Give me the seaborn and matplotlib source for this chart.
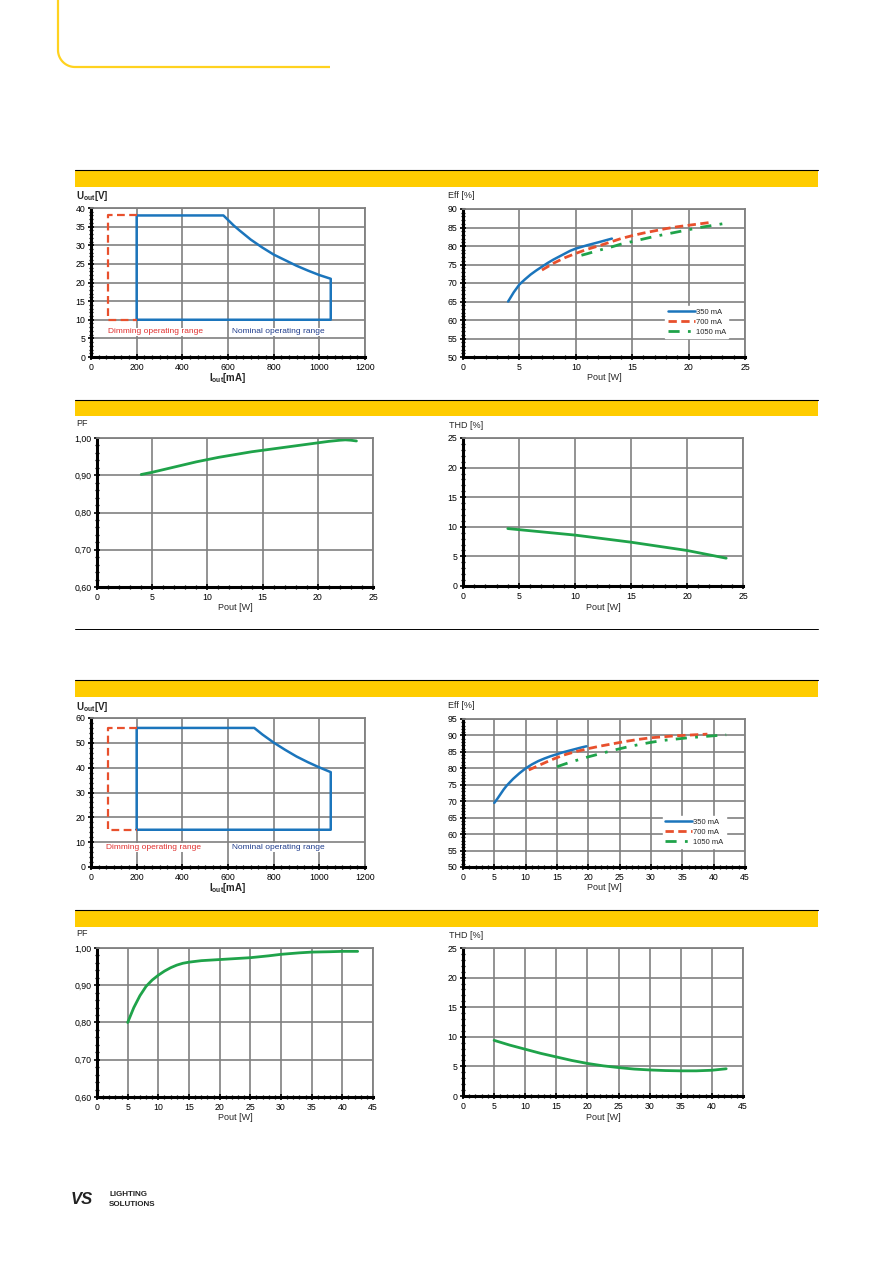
import numpy as np
import pandas as pd
import matplotlib
matplotlib.use("Agg")
import matplotlib.pyplot as plt
import seaborn as sns
from matplotlib.lines import Line2D
from matplotlib.patches import Rectangle
from matplotlib.ticker import MultipleLocator, AutoMinorLocator, FuncFormatter

# ---------------- data ----------------
# Section 1 (small driver): operating window
nom1_I = [200, 200, 580, 600, 625, 650, 700, 750, 800, 850, 900, 950, 1000, 1050, 1050, 200]
nom1_U = [10, 38, 38, 36.8, 35.3, 34, 31.5, 29.4, 27.5, 26, 24.5, 23.2, 22, 21, 10, 10]
dim1_I = [200, 75, 75, 200]
dim1_U = [38, 38, 10, 10]

# Section 1 efficiency
eff1_350_x = [4, 4.5, 5, 5.5, 6, 6.5, 7, 7.5, 8, 8.5, 9, 9.5, 10, 11, 12, 13.2]
eff1_350_y = [65, 67.5, 69.6, 71, 72.3, 73.4, 74.4, 75.4, 76.3, 77.1, 77.9, 78.7, 79.3, 80.2, 81, 82]
eff1_700_x = [7, 8, 9, 10, 11, 12, 13, 14, 15, 16, 17, 18, 19, 20, 21, 22]
eff1_700_y = [73.5, 75.3, 76.8, 78, 79.1, 80, 81, 82, 82.8, 83.5, 84.1, 84.7, 85.2, 85.6, 86, 86.4]
eff1_1050_x = [10.5, 11, 12, 13, 14, 15, 16, 17, 18, 19, 20, 21, 22, 23, 23.5]
eff1_1050_y = [77.5, 77.9, 78.8, 79.6, 80.5, 81.2, 81.9, 82.6, 83.2, 83.8, 84.4, 85, 85.5, 86, 86.2]

# Section 1 PF / THD
pf1_x = [4, 5, 6, 7, 8, 9, 10, 11, 12, 13, 14, 15, 16, 17, 18, 19, 20, 21, 22, 22.5, 23, 23.5]
pf1_y = [0.902, 0.908, 0.915, 0.922, 0.929, 0.936, 0.942, 0.948, 0.953, 0.958, 0.963, 0.967,
         0.971, 0.975, 0.979, 0.983, 0.987, 0.991, 0.994, 0.995, 0.994, 0.992]
thd1_x = [4, 10, 15, 20, 23.5]
thd1_y = [9.7, 8.6, 7.4, 6.0, 4.7]

# Section 2 (larger driver): operating window
nom2_I = [200, 200, 715, 750, 800, 850, 900, 950, 1000, 1050, 1050, 200]
nom2_U = [15, 56, 56, 53.4, 50.1, 47.2, 44.5, 42.2, 40.1, 38.2, 15, 15]
dim2_I = [200, 75, 75, 200]
dim2_U = [56, 56, 15, 15]

# Section 2 efficiency
eff2_350_x = [5, 5.5, 6, 6.5, 7, 7.5, 8, 9, 10, 11, 12, 13, 14, 15, 16, 17, 18, 19, 19.7]
eff2_350_y = [69.5, 70.8, 72.2, 73.6, 74.8, 75.8, 76.8, 78.5, 80, 81.2, 82.2, 83, 83.7, 84.3,
              84.9, 85.4, 85.9, 86.4, 86.7]
eff2_700_x = [10.5, 12, 14, 16, 18, 20, 22, 24, 26, 28, 30, 32, 34, 36, 38, 39]
eff2_700_y = [79.5, 80.8, 82.5, 84, 85.1, 86, 86.8, 87.5, 88.2, 88.8, 89.3, 89.6, 89.9, 90.1,
              90.3, 90.4]
eff2_1050_x = [15, 17, 20, 22, 24, 26, 28, 30, 32, 34, 36, 38, 40, 42]
eff2_1050_y = [80.5, 81.8, 83.5, 84.5, 85.5, 86.4, 87.2, 87.9, 88.5, 88.9, 89.3, 89.6, 89.9, 90.2]

# Section 2 PF / THD
pf2_x = [5, 6, 7, 8, 9, 10, 11, 12, 13, 14, 15, 17, 20, 22, 25, 28, 30, 33, 35, 38, 40, 42.5]
pf2_y = [0.800, 0.840, 0.872, 0.897, 0.914, 0.927, 0.938, 0.947, 0.954, 0.959, 0.962, 0.966,
         0.969, 0.971, 0.974, 0.979, 0.983, 0.987, 0.989, 0.990, 0.991, 0.991]
thd2_x = [5, 7.5, 10, 12.5, 15, 17.5, 20, 22.5, 25, 27.5, 30, 32.5, 35, 37.5, 40, 42.3]
thd2_y = [9.4, 8.6, 7.9, 7.2, 6.6, 6.0, 5.5, 5.1, 4.8, 4.55, 4.4, 4.3, 4.25, 4.25, 4.35, 4.6]

series_labels = ["350 mA", "700 mA", "1050 mA"]

# ---------------- style ----------------
sns.set_theme(style="white")
plt.rcParams['font.family'] = ['Liberation Sans', 'DejaVu Sans']
plt.rcParams['mathtext.fontset'] = 'custom'
plt.rcParams['mathtext.rm'] = 'Liberation Sans'
plt.rcParams['mathtext.bf'] = 'Liberation Sans:bold'

BLUE = '#1B75BC'
RED = '#E8502D'
GREEN = '#1FA34A'
YEL = '#FFCC00'
NAVY = '#1F3C8C'
DIMRED = '#E0302F'

W, H = 893, 1263
fig = plt.figure(figsize=(W / 100, H / 100), dpi=100)


def add_ax(x0, y0, x1, y1):
    return fig.add_axes([x0 / W, 1 - y1 / H, (x1 - x0) / W, (y1 - y0) / H])


def ftext(x, y, s, **kw):
    fig.text(x / W, 1 - y / H, s, **kw)


def style(ax, xlim, xstep, ylim, ystep, yfmt=None, xminor=5, yminor=5):
    ax.set_xlim(*xlim)
    ax.set_ylim(*ylim)
    ax.xaxis.set_major_locator(MultipleLocator(xstep))
    ax.yaxis.set_major_locator(MultipleLocator(ystep))
    ax.xaxis.set_minor_locator(AutoMinorLocator(xminor))
    ax.yaxis.set_minor_locator(AutoMinorLocator(yminor))
    ax.grid(True, which='major', color='#808080', lw=1.2)
    ax.grid(False, which='minor')
    ax.set_axisbelow(True)
    for s in ['top', 'right']:
        ax.spines[s].set_color('#808080')
        ax.spines[s].set_linewidth(1.3)
    for s in ['left', 'bottom']:
        ax.spines[s].set_color('black')
        ax.spines[s].set_linewidth(2.2)
    ax.tick_params(which='both', colors='black', labelsize=6.3, direction='inout',
                   left=True, bottom=True, top=False, right=False)
    ax.tick_params(which='major', length=4, width=1.2, pad=2)
    ax.tick_params(which='minor', length=2.6, width=0.9)
    ax.set_xlabel('')
    ax.set_ylabel('')
    if yfmt is not None:
        ax.yaxis.set_major_formatter(FuncFormatter(yfmt))


comma2 = lambda v, p: f"{v:.2f}".replace('.', ',')

# ---------------- decorations ----------------
th = np.linspace(np.pi, 1.5 * np.pi, 30)
r = 17
cx, cy = 58 + r, 50
arc_x = cx + r * np.cos(th)
arc_y = cy - r * np.sin(th)
bx = np.concatenate([[58], arc_x, [330]])
by = np.concatenate([[0], arc_y, [67]])
fig.add_artist(Line2D(bx / W, 1 - by / H, transform=fig.transFigure,
                      color='#FFD21F', lw=1.6, solid_capstyle='butt'))

for (y0, y1) in [(170, 187), (400, 416), (680, 697), (910, 927)]:
    fig.add_artist(Rectangle((75 / W, 1 - y1 / H), (818 - 75) / W, (y1 - y0) / H,
                             transform=fig.transFigure, color=YEL, lw=0))
    fig.add_artist(Line2D([75 / W, 818 / W], [1 - y0 / H, 1 - y0 / H],
                          transform=fig.transFigure, color='black', lw=0.8))

fig.add_artist(Line2D([75 / W, 818 / W], [1 - 629 / H, 1 - 629 / H],
                      transform=fig.transFigure, color='black', lw=0.7))

# logo
ftext(71, 1200, "VS", fontsize=12, fontweight='heavy', style='italic',
      va='center', ha='left', color='#222222')
ftext(109, 1195, "LIGHTING", fontsize=5.8, fontweight='bold', va='center', ha='left', color='#222222')
ftext(109, 1204, "SOLUTIONS", fontsize=5.8, fontweight='bold', va='center', ha='left', color='#222222')


# ---------------- helpers for charts ----------------
def window_chart(box, nomI, nomU, dimI, dimU, ylim, ystep, dim_pos, nom_pos, ylab_y, xlab_y):
    ax = add_ax(*box)
    sns.lineplot(x=nomI, y=nomU, ax=ax, sort=False, estimator=None, color=BLUE, lw=1.8)
    sns.lineplot(x=dimI, y=dimU, ax=ax, sort=False, estimator=None, color=RED, lw=1.6)
    ax.lines[-1].set_dashes((3.5, 2))
    style(ax, (0, 1200), 200, ylim, ystep, xminor=6, yminor=5)
    ax.text(dim_pos[0], dim_pos[1], "Dimming operating range", color=DIMRED, fontsize=6,
            va='center', ha='left', bbox=dict(facecolor='white', edgecolor='none', pad=0.5))
    ax.text(nom_pos[0], nom_pos[1], "Nominal operating range", color=NAVY, fontsize=6,
            va='center', ha='left', bbox=dict(facecolor='white', edgecolor='none', pad=0.5))
    ftext(76, ylab_y, r"$\mathbf{U_{out}}$" + "[V]", fontsize=7, fontweight='bold', va='center', ha='left')
    ftext((box[0] + box[2]) / 2, xlab_y, r"$\mathbf{I_{out}}$" + "[mA]", fontsize=7,
          fontweight='bold', va='center', ha='center')
    return ax


def eff_chart(box, s350, s700, s1050, xlim, ylim, leg_anchor, ylab_y, xlab_y):
    ax = add_ax(*box)
    sns.lineplot(x=s350[0], y=s350[1], ax=ax, color=BLUE, lw=1.8, label=series_labels[0])
    sns.lineplot(x=s700[0], y=s700[1], ax=ax, color=RED, lw=2.0, label=series_labels[1])
    ax.lines[-1].set_dashes((3, 1.6))
    sns.lineplot(x=s1050[0], y=s1050[1], ax=ax, color=GREEN, lw=2.0, label=series_labels[2])
    ax.lines[-1].set_dashes((4, 3, 1, 3))
    style(ax, xlim, 5, ylim, 5, xminor=5, yminor=5)
    ax.legend(loc='lower right', bbox_to_anchor=leg_anchor, fontsize=5.5, frameon=True,
              facecolor='white', edgecolor='white', framealpha=1, handlelength=3.6,
              handletextpad=0.1, borderpad=0.3, labelspacing=0.35, fancybox=False)
    ftext(448, ylab_y, "Eff [%]", fontsize=6.5, va='center', ha='left')
    ftext((box[0] + box[2]) / 2, xlab_y, "Pout [W]", fontsize=6.5, va='center', ha='center')
    return ax


def single_chart(box, x, y, xlim, ylim, ystep, lab, lab_x, ylab_y, xlab_y, yfmt=None):
    ax = add_ax(*box)
    sns.lineplot(x=x, y=y, ax=ax, color=GREEN, lw=2.0)
    style(ax, xlim, 5, ylim, ystep, yfmt=yfmt, xminor=5, yminor=5)
    ftext(lab_x, ylab_y, lab, fontsize=6.5, va='center', ha='left')
    ftext((box[0] + box[2]) / 2, xlab_y, "Pout [W]", fontsize=6.5, va='center', ha='center')
    return ax


# ---------------- section 1 ----------------
window_chart((91, 208, 365, 357), nom1_I, nom1_U, dim1_I, dim1_U, (0, 40), 5,
             (73, 6.8), (616, 6.8), 196, 378)
eff_chart((463, 209, 745, 357), (eff1_350_x, eff1_350_y), (eff1_700_x, eff1_700_y),
          (eff1_1050_x, eff1_1050_y), (0, 25), (50, 90), (0.955, 0.1), 196, 378)
single_chart((97, 438, 373, 587), pf1_x, pf1_y, (0, 25), (0.6, 1.0), 0.1, "PF", 76, 424, 607,
             yfmt=comma2)
single_chart((463, 438, 743, 586), thd1_x, thd1_y, (0, 25), (0, 25), 5, "THD [%]", 449, 425, 608)

# ---------------- section 2 ----------------
window_chart((91, 718, 365, 867), nom2_I, nom2_U, dim2_I, dim2_U, (0, 60), 10,
             (64, 7.9), (616, 7.9), 707, 888)
eff_chart((463, 719, 745, 867), (eff2_350_x, eff2_350_y), (eff2_700_x, eff2_700_y),
          (eff2_1050_x, eff2_1050_y), (0, 45), (50, 95), (0.945, 0.1), 705, 888)
single_chart((97, 948, 373, 1097), pf2_x, pf2_y, (0, 45), (0.6, 1.0), 0.1, "PF", 76, 934, 1117,
             yfmt=comma2)
single_chart((463, 948, 743, 1096), thd2_x, thd2_y, (0, 45), (0, 25), 5, "THD [%]", 449, 935, 1118)

fig.savefig("out.png", dpi=100)
